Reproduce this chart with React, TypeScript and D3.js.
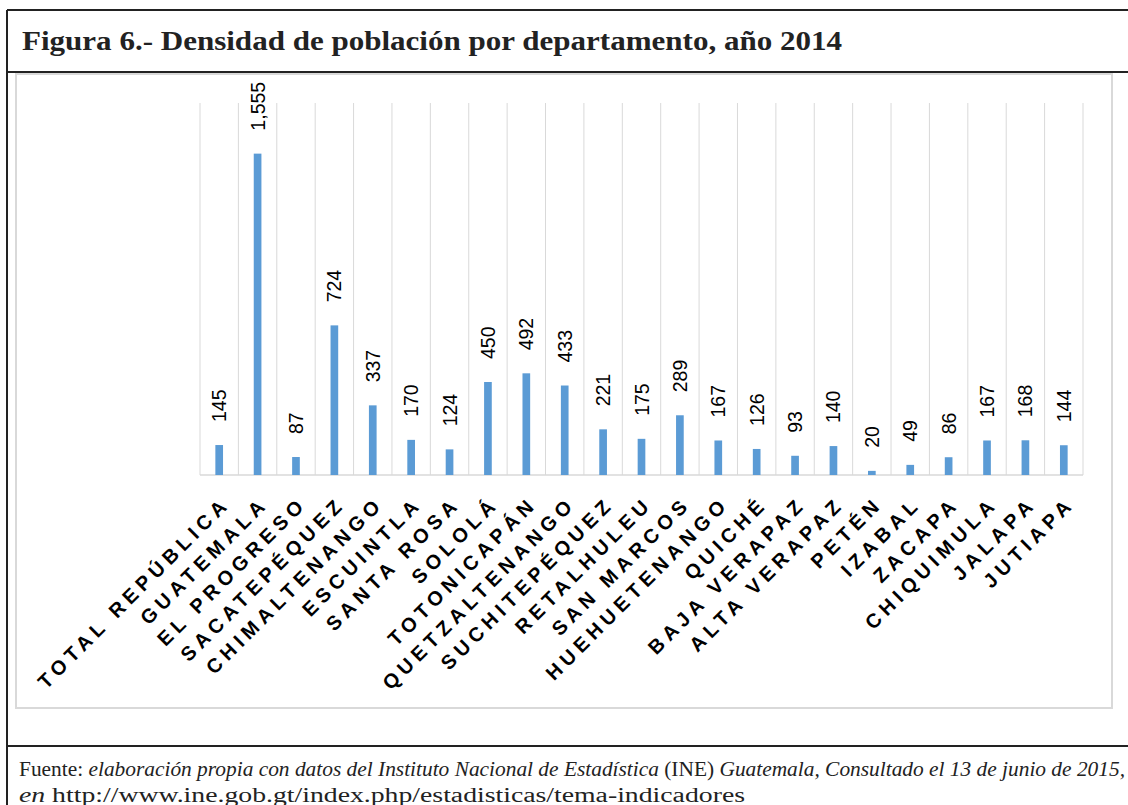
import React from 'react';
import * as d3 from 'd3';

const departamentos = [
  'TOTAL REPÚBLICA', 'GUATEMALA', 'EL PROGRESO', 'SACATEPÉQUEZ', 'CHIMALTENANGO',
  'ESCUINTLA', 'SANTA ROSA', 'SOLOLÁ', 'TOTONICAPÁN', 'QUETZALTENANGO',
  'SUCHITEPÉQUEZ', 'RETALHULEU', 'SAN MARCOS', 'HUEHUETENANGO', 'QUICHÉ',
  'BAJA VERAPAZ', 'ALTA VERAPAZ', 'PETÉN', 'IZABAL', 'ZACAPA',
  'CHIQUIMULA', 'JALAPA', 'JUTIAPA',
];
const densidad = [
  145, 1555, 87, 724, 337, 170, 124, 450, 492, 433, 221, 175, 289, 167, 126,
  93, 140, 20, 49, 86, 167, 168, 144,
];
const yMax = 1800;

const W = 1128;
const H = 805;
const plotLeft = 200;
const plotRight = 1083;
const plotTop = 103;
const plotBottom = 475;

const serif = '"Palatino Linotype", "Book Antiqua", Palatino, "Liberation Serif", serif';
const sans = 'Arial, "Liberation Sans", sans-serif';

const App = () => {
  const x = d3.scaleBand()
    .domain(departamentos)
    .range([plotLeft, plotRight])
    .paddingInner(0.8)
    .paddingOuter(0.4);
  const y = d3.scaleLinear().domain([0, yMax]).range([plotBottom, plotTop]);
  const step = x.step();
  const fmt = d3.format(',');

  const gridXs = d3.range(departamentos.length + 1).map(i => plotLeft + i * step);

  return (
    <div style={{ position: 'absolute', left: 0, top: 0 }}>
      <svg width={W} height={H} style={{ display: 'block', background: '#fff' }}>
        {/* outer frame */}
        <line x1={7} x2={W} y1={10} y2={10} stroke="#222" strokeWidth={2} />
        <line x1={7} x2={7} y1={10} y2={H} stroke="#222" strokeWidth={2} />
        <line x1={7} x2={W} y1={72} y2={72} stroke="#222" strokeWidth={2} />
        <line x1={7} x2={W} y1={746} y2={746} stroke="#222" strokeWidth={2} />

        <text x={22} y={50} fontFamily={serif} fontWeight="bold" fontSize={27} fill="#222"
          textLength={820} lengthAdjust="spacingAndGlyphs">
          Figura 6.- Densidad de población por departamento, año 2014
        </text>

        {/* chart area box */}
        <rect x={16} y={74} width={1096} height={634} fill="#fff" stroke="#d9d9d9" strokeWidth={2} />

        {/* vertical gridlines */}
        {gridXs.map((gx, i) => (
          <line key={i} x1={gx} x2={gx} y1={plotTop} y2={plotBottom} stroke="#d9d9d9" strokeWidth={1} />
        ))}
        <line x1={plotLeft} x2={plotRight} y1={plotBottom} y2={plotBottom} stroke="#d9d9d9" strokeWidth={1.5} />

        {/* bars */}
        {departamentos.map((d, i) => (
          <rect key={d} x={x(d)} y={y(densidad[i])} width={x.bandwidth()}
            height={plotBottom - y(densidad[i])} fill="#5b9bd5" />
        ))}

        {/* value labels */}
        {departamentos.map((d, i) => {
          const cx = (x(d) as number) + x.bandwidth() / 2;
          return (
            <text key={d} transform={`translate(${cx + 7},${y(densidad[i]) - 23}) rotate(-90)`}
              fontFamily={sans} fontSize={19.5} fill="#000">
              {fmt(densidad[i])}
            </text>
          );
        })}

        {/* category labels */}
        {departamentos.map(d => {
          const cx = (x(d) as number) + x.bandwidth() / 2;
          return (
            <text key={d} transform={`translate(${cx + 12},${505}) rotate(-45)`}
              textAnchor="end" fontFamily={sans} fontWeight="bold" fontSize={20}
              letterSpacing={5} fill="#000">
              {d}
            </text>
          );
        })}

        {/* source */}
        <text x={19} y={776} fontFamily={serif} fontSize={20} fill="#222"
          textLength={1106} lengthAdjust="spacingAndGlyphs">
          Fuente: <tspan fontStyle="italic">elaboración propia con datos del Instituto Nacional de Estadística</tspan> (INE) <tspan fontStyle="italic">Guatemala, Consultado el 13 de junio de 2015,</tspan>
        </text>
        <text x={19} y={802} fontFamily={serif} fontSize={20} fill="#222"
          textLength={726} lengthAdjust="spacingAndGlyphs">
          <tspan fontStyle="italic">en</tspan>{'  '}http://www.ine.gob.gt/index.php/estadisticas/tema-indicadores
        </text>
      </svg>
    </div>
  );
};

export default App;
